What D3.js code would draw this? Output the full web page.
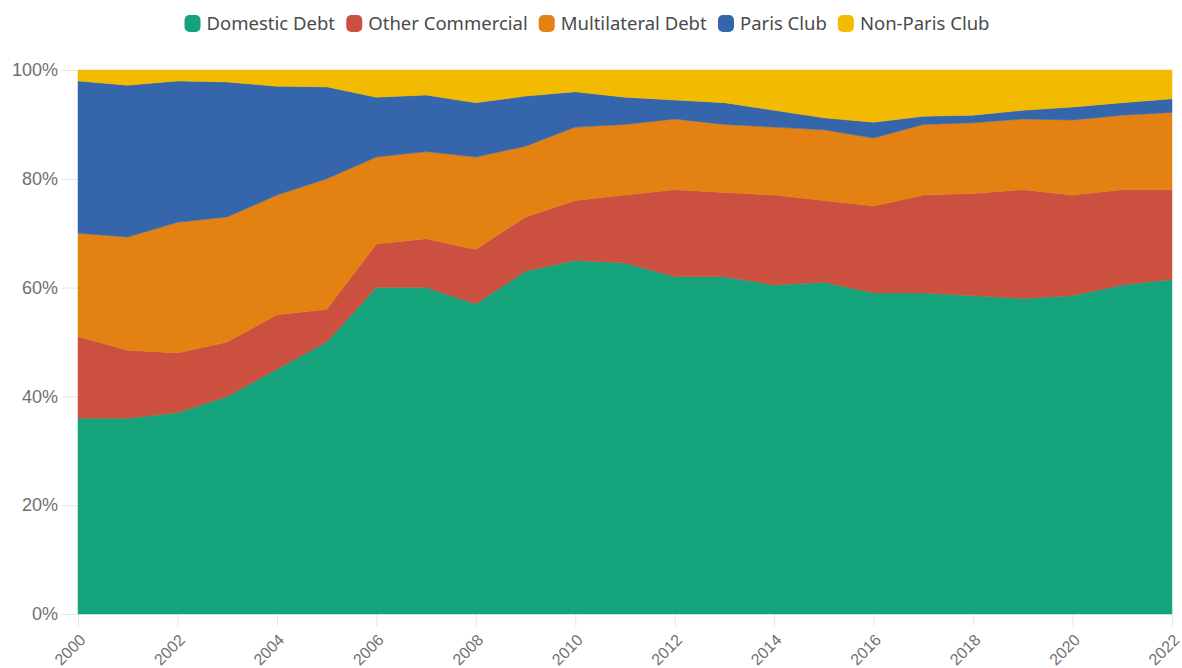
<!DOCTYPE html>
<html>
<head>
<meta charset="utf-8">
<script src="https://cdn.jsdelivr.net/npm/d3@7"></script>
<style>
  body { margin: 0; background: #fff; }
  svg { display: block; font-family: "Noto Sans", sans-serif; }
</style>
</head>
<body>
<svg id="chart"></svg>
<script>
(function () {
    const W = 1182;
    const H = 668;
    const margin = { top: 70, right: 10, bottom: 54, left: 78 };

    // data (percent share of total debt)
    const years = d3.range(2000, 2023);
    const keys = ["Domestic Debt", "Other Commercial", "Multilateral Debt", "Paris Club", "Non-Paris Club"];
    const colors = ["#14a37a", "#cb503f", "#e38213", "#3566ab", "#f2ba00"];
    const domestic = [36, 36, 37, 40, 45, 50, 60, 60, 57, 63, 65, 64.5, 62, 62, 60.5, 61, 59, 59, 58.5, 58, 58.5, 60.5, 61.5];
    const otherCommercial = [15, 12.5, 11, 10, 10, 6, 8, 9, 10, 10, 11, 12.5, 16, 15.5, 16.5, 15, 16, 18, 18.8, 20, 18.5, 17.5, 16.5];
    const multilateral = [19, 20.8, 24, 23, 22, 24, 16, 16, 17, 13, 13.5, 13, 13, 12.5, 12.5, 13, 12.5, 13, 13, 13, 13.8, 13.7, 14.2];
    const parisClub = [28, 27.9, 26, 24.8, 20, 16.9, 11, 10.4, 10, 9.2, 6.5, 5, 3.5, 4, 3.1, 2.2, 2.9, 1.5, 1.4, 1.6, 2.4, 2.3, 2.5];
    const nonParisClub = [2, 2.8, 2, 2.2, 3, 3.1, 5, 4.6, 6, 4.8, 4, 5, 5.5, 6, 7.4, 8.8, 9.6, 8.5, 8.3, 7.4, 6.8, 6, 5.3];
    const yTicks = [0, 20, 40, 60, 80, 100];
    const xTicks = d3.range(2000, 2023, 2);

    const series = [domestic, otherCommercial, multilateral, parisClub, nonParisClub];
    const table = years.map((yr, i) => {
        const row = { year: yr };
        keys.forEach((k, j) => { row[k] = series[j][i]; });
        return row;
    });

    const svg = d3.select("#chart")
        .attr("width", W)
        .attr("height", H);

    const x = d3.scaleLinear()
        .domain([2000, 2022])
        .range([margin.left, W - margin.right]);

    const y = d3.scaleLinear()
        .domain([0, 100])
        .range([H - margin.bottom, margin.top]);

    const color = d3.scaleOrdinal().domain(keys).range(colors);

    const stack = d3.stack()
        .keys(keys)
        .order(d3.stackOrderNone)
        .offset(d3.stackOffsetNone);

    const area = d3.area()
        .x(d => x(d.data.year))
        .y0(d => y(d[0]))
        .y1(d => y(d[1]));

    // y axis ticks (short light lines + labels)
    const yAxis = svg.append("g")
        .attr("transform", `translate(${margin.left},0)`)
        .call(d3.axisLeft(y).tickValues(yTicks).tickFormat(d => d + "%").tickSize(16).tickPadding(4));
    yAxis.select(".domain").remove();
    yAxis.selectAll(".tick line").attr("stroke", "#e6e6e6");
    yAxis.selectAll(".tick text")
        .attr("fill", "#707070")
        .style("font-size", "18px");

    // x axis, labels slanted
    const xAxis = svg.append("g")
        .attr("transform", `translate(0,${H - margin.bottom})`)
        .call(d3.axisBottom(x).tickValues(xTicks).tickFormat(d3.format("d")).tickSize(12));
    xAxis.select(".domain").remove();
    xAxis.selectAll(".tick line").attr("stroke", "#e6e6e6");
    xAxis.selectAll(".tick text")
        .attr("fill", "#707070")
        .style("font-size", "16px")
        .attr("text-anchor", "end")
        .attr("y", 0)
        .attr("dy", "0")
        .attr("transform", "translate(8,27) rotate(-45)");

    svg.append("g")
        .selectAll("path")
        .data(stack(table))
        .join("path")
        .attr("fill", d => color(d.key))
        .attr("stroke", d => color(d.key))
        .attr("stroke-width", 0.5)
        .attr("d", area);

    // legend, centred at the top
    const legend = svg.append("g").attr("transform", "translate(0,24)");
    const items = legend.selectAll("g")
        .data(keys)
        .join("g");
    items.append("rect")
        .attr("width", 16)
        .attr("height", 17)
        .attr("y", -9)
        .attr("rx", 5)
        .attr("fill", d => color(d));
    items.append("text")
        .attr("x", 22)
        .attr("dy", "0.35em")
        .attr("fill", "#4a4a4a")
        .style("font-size", "18.5px")
        .text(d => d);

    const gap = 11;
    const widths = items.nodes().map(n => n.getBBox().width);
    const total = d3.sum(widths) + gap * (keys.length - 1);
    let cx = (W - total) / 2 - 4;
    items.each(function (d, i) {
        d3.select(this).attr("transform", `translate(${cx},0)`);
        cx += widths[i] + gap;
    });
})();
</script>
</body>
</html>
